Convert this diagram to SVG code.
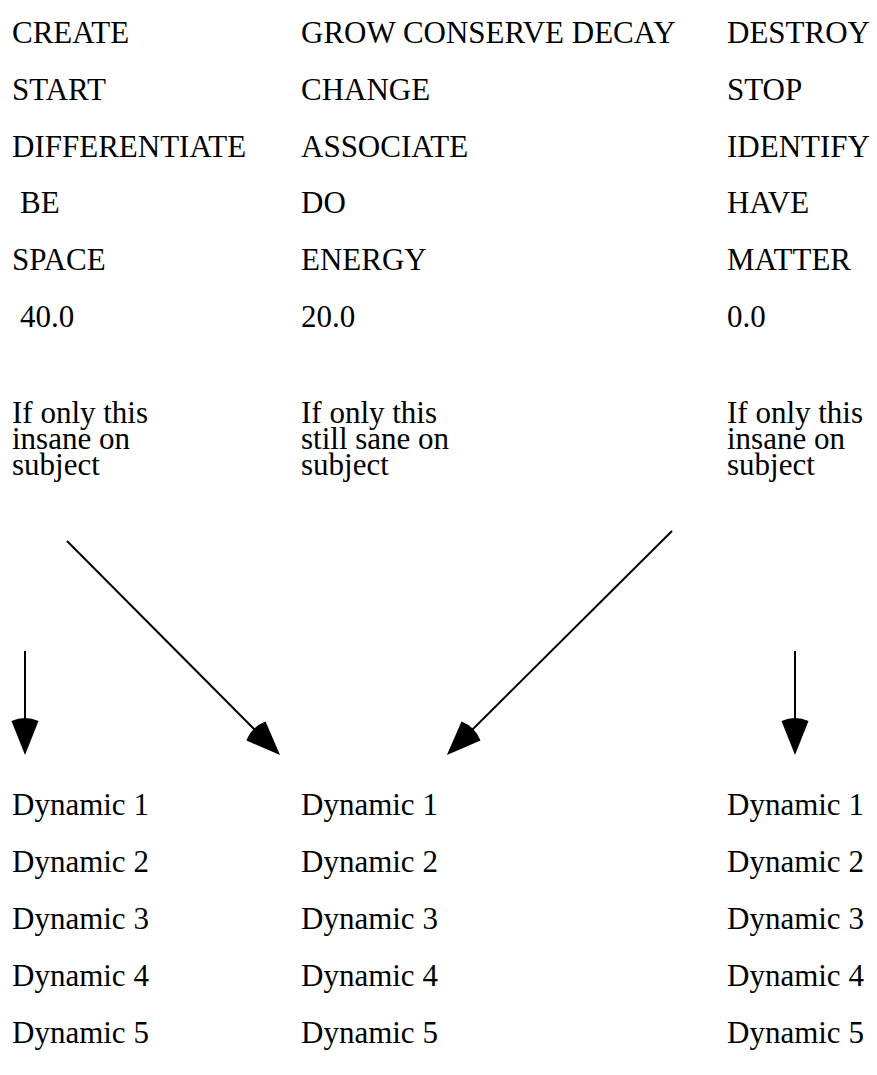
<svg xmlns="http://www.w3.org/2000/svg" width="877" height="1075" viewBox="0 0 877 1075">
<style>
text{font-family:"Liberation Serif","Times New Roman",serif;font-size:31px;fill:#000}
.c{stroke:#000;stroke-width:2;fill:none}
</style>
<defs>
<marker id="ah" viewBox="-4 -14 40 28" refX="0" refY="0" markerWidth="40" markerHeight="28" markerUnits="userSpaceOnUse" orient="auto">
<path d="M34,0 L0,-13.5 Q-6,0 0,13.5 Z" fill="#000"/>
</marker>
</defs>
<rect width="877" height="1075" fill="#fff"/>
<g id="col1">
<text x="12" y="43">CREATE</text>
<text x="12" y="100">START</text>
<text x="12" y="157">DIFFERENTIATE</text>
<text x="20" y="213">BE</text>
<text x="12" y="270">SPACE</text>
<text x="20" y="327">40.0</text>
<text x="12" y="423">If only this</text>
<text x="12" y="449">insane on</text>
<text x="12" y="475">subject</text>
</g>
<g id="col2">
<text x="301" y="43">GROW CONSERVE DECAY</text>
<text x="301" y="100">CHANGE</text>
<text x="301" y="157">ASSOCIATE</text>
<text x="301" y="213">DO</text>
<text x="301" y="270">ENERGY</text>
<text x="301" y="327">20.0</text>
<text x="301" y="423">If only this</text>
<text x="301" y="449">still sane on</text>
<text x="301" y="475">subject</text>
</g>
<g id="col3">
<text x="727" y="43">DESTROY</text>
<text x="727" y="100">STOP</text>
<text x="727" y="157">IDENTIFY</text>
<text x="727" y="213">HAVE</text>
<text x="727" y="270">MATTER</text>
<text x="727" y="327">0.0</text>
<text x="727" y="423">If only this</text>
<text x="727" y="449">insane on</text>
<text x="727" y="475">subject</text>
</g>
<g id="connectors">
<line class="c" x1="25" y1="651" x2="25" y2="721" marker-end="url(#ah)"/>
<line class="c" x1="67" y1="541" x2="256" y2="731" marker-end="url(#ah)"/>
<line class="c" x1="672" y1="531" x2="471" y2="731" marker-end="url(#ah)"/>
<line class="c" x1="795" y1="651" x2="795" y2="721" marker-end="url(#ah)"/>
</g>
<g id="dyn1">
<text x="12" y="815">Dynamic 1</text>
<text x="12" y="872">Dynamic 2</text>
<text x="12" y="929">Dynamic 3</text>
<text x="12" y="986">Dynamic 4</text>
<text x="12" y="1043">Dynamic 5</text>
</g>
<g id="dyn2">
<text x="301" y="815">Dynamic 1</text>
<text x="301" y="872">Dynamic 2</text>
<text x="301" y="929">Dynamic 3</text>
<text x="301" y="986">Dynamic 4</text>
<text x="301" y="1043">Dynamic 5</text>
</g>
<g id="dyn3">
<text x="727" y="815">Dynamic 1</text>
<text x="727" y="872">Dynamic 2</text>
<text x="727" y="929">Dynamic 3</text>
<text x="727" y="986">Dynamic 4</text>
<text x="727" y="1043">Dynamic 5</text>
</g>
</svg>
